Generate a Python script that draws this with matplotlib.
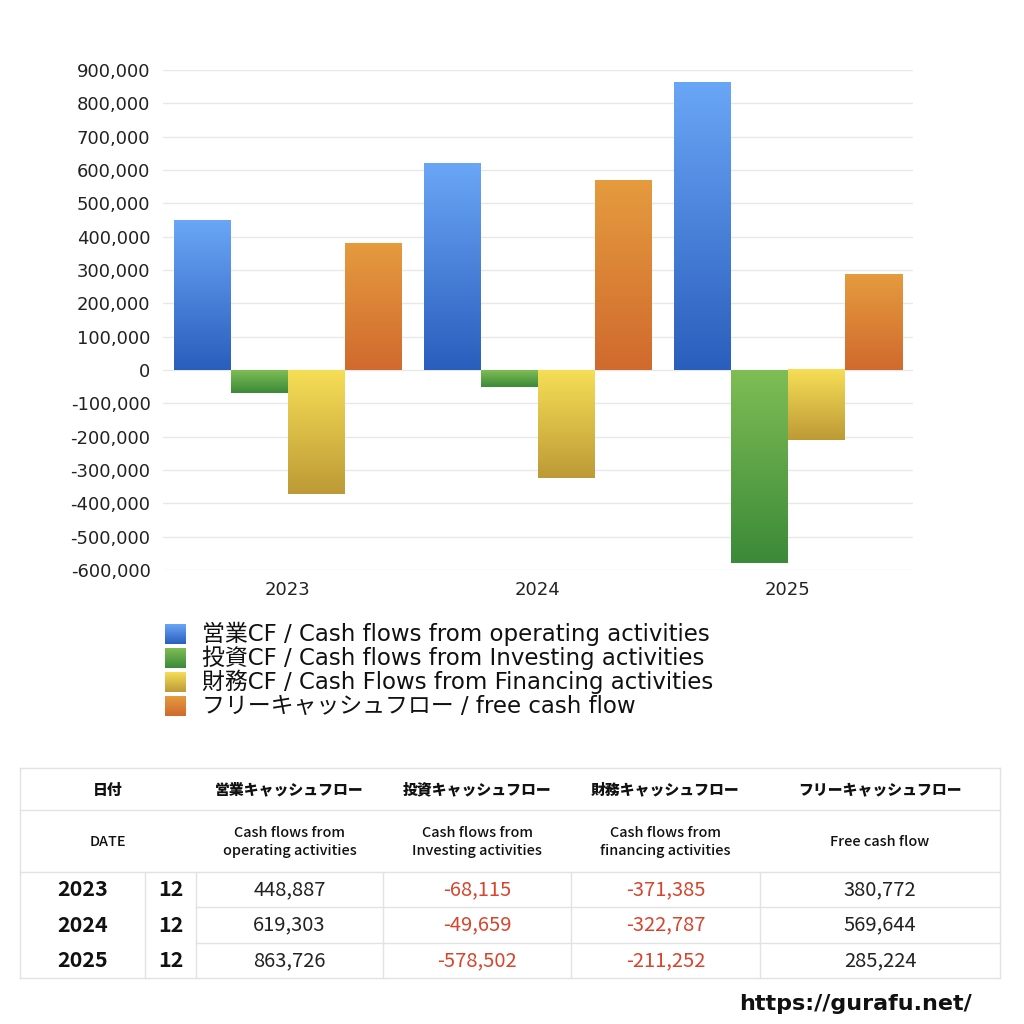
import matplotlib
matplotlib.use("Agg")
import numpy as np
import matplotlib.pyplot as plt
from matplotlib.colors import LinearSegmentedColormap
from matplotlib.ticker import FuncFormatter

plt.rcParams['font.family'] = ['DejaVu Sans', 'Noto Sans CJK JP']
JP = ['Noto Sans CJK JP', 'DejaVu Sans']

years = ['2023', '2024', '2025']
months = ['12', '12', '12']
operating = [448887, 619303, 863726]
investing = [-68115, -49659, -578502]
financing = [-371385, -322787, -211252]
free_cf = [380772, 569644, 285224]

series_labels = [
    '営業CF / Cash flows from operating activities',
    '投資CF / Cash flows from Investing activities',
    '財務CF / Cash Flows from Financing activities',
    'フリーキャッシュフロー / free cash flow',
]
header_jp = ['日付', '営業キャッシュフロー', '投資キャッシュフロー', '財務キャッシュフロー', 'フリーキャッシュフロー']
header_en = ['DATE', 'Cash flows from\noperating activities', 'Cash flows from\nInvesting activities',
             'Cash flows from\nfinancing activities', 'Free cash flow']

# gradient colours (top, bottom) for each series
grads = [('#6aa6f6', '#2a5ebd'), ('#7fbd55', '#3b8a38'),
         ('#f6de56', '#bd9a36'), ('#e59b3e', '#d06a2e')]

fig = plt.figure(figsize=(10.24, 10.24), dpi=100)
ax = fig.add_axes([163 / 1024, 1 - 570 / 1024, 750 / 1024, 500 / 1024])

all_series = [operating, investing, financing, free_cf]
x = np.arange(len(years))
w = 0.228
offsets = (np.arange(4) - 1.5) * w
grad_img = np.linspace(0, 1, 256).reshape(-1, 1)

for i, vals in enumerate(all_series):
    cmap = LinearSegmentedColormap.from_list('g%d' % i, [grads[i][0], grads[i][1]])
    for xi, v in zip(x, vals):
        left = xi + offsets[i] - w / 2
        top, bottom = max(v, 0), min(v, 0)
        ax.imshow(grad_img, cmap=cmap, aspect='auto', interpolation='bicubic',
                  extent=(left, left + w, bottom, top), origin='upper', zorder=3)

ax.set_xlim(-0.5, 2.5)
ax.set_ylim(-600000, 900000)
ax.set_yticks(np.arange(-600000, 900001, 100000))
ax.yaxis.set_major_formatter(FuncFormatter(lambda v, p: f'{int(v):,}'))
ax.set_xticks(x)
ax.set_xticklabels(years)
ax.grid(axis='y', color='#e8e8e8', linewidth=1, zorder=0)
ax.set_axisbelow(True)
for s in ax.spines.values():
    s.set_visible(False)
ax.tick_params(length=0, labelsize=13, colors='#222222')
ax.tick_params(axis='y', pad=9)
ax.tick_params(axis='x', pad=8)

# overlay in pixel coordinates for legend, table and url
ov = fig.add_axes([0, 0, 1, 1])
ov.set_xlim(0, 1024)
ov.set_ylim(1024, 0)
ov.axis('off')

for i, lab in enumerate(series_labels):
    yc = 634 + i * 24
    c0, c1 = grads[i]
    cmap = LinearSegmentedColormap.from_list('l%d' % i, [c0, c1])
    ov.imshow(grad_img, cmap=cmap, aspect='auto', extent=(165, 186, yc + 10, yc - 10), origin='upper')
    ov.text(202, yc, lab, fontsize=16.5, va='center', ha='left', color='#111111')

# table
col_edges = [20, 145, 196, 383, 571, 760, 1000]
row_edges = [768, 810, 872, 907, 943, 978]
lc = '#e2e2e2'
for r in [768, 810, 872, 978]:
    ov.plot([20, 1000], [r, r], color=lc, lw=1)
ov.plot([20, 20], [768, 978], color=lc, lw=1)
ov.plot([1000, 1000], [768, 978], color=lc, lw=1)
for r in row_edges[3:5]:
    ov.plot([196, 1000], [r, r], color=lc, lw=1)
for c in col_edges[1:-1]:
    ov.plot([c, c], [872, 978], color=lc, lw=1)

head_x = [108] + [(col_edges[k] + col_edges[k + 1]) / 2 for k in range(2, 5)] + [880]
for hx, hj, he in zip(head_x, header_jp, header_en):
    ov.text(hx, 790, hj, fontsize=10.7, fontweight='heavy', ha='center', va='center', color='#111111', family=JP)
    ov.text(hx, 842, he, fontsize=10.4, fontweight='medium', ha='center', va='center', color='#111111',
            linespacing=1.4, family=JP)

red = '#d8442c'
for r in range(len(years)):
    yc = (row_edges[r + 2] + row_edges[r + 3]) / 2
    ov.text(83, yc, years[r], fontsize=15.5, fontweight='bold', ha='center', va='center', color='#111111', family=JP)
    ov.text(171, yc, months[r], fontsize=15.5, fontweight='bold', ha='center', va='center', color='#111111', family=JP)
    for k, vals in enumerate(all_series):
        v = vals[r]
        ov.text(head_x[k + 1], yc, f'{v:,}', fontsize=14.5, ha='center', va='center',
                color=red if v < 0 else '#222222', family=JP)

ov.text(972, 1004, 'https://gurafu.net/', fontsize=16, fontweight='bold', ha='right', va='center', color='#111111')

fig.savefig('out.png', dpi=100)
